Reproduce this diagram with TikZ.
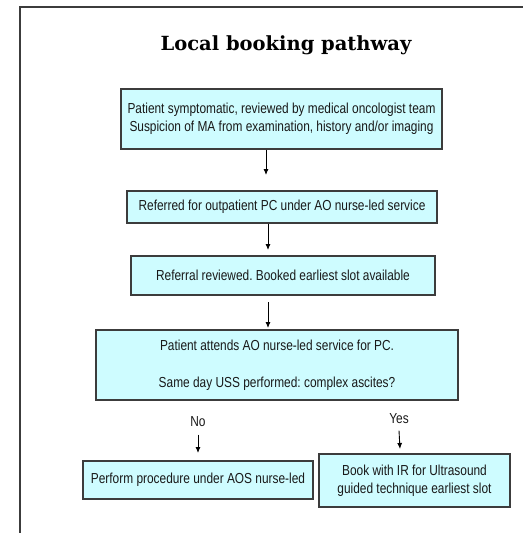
\documentclass[tikz,border=0pt]{standalone}
\usepackage{fontspec}
\usepackage{tikz}
\usetikzlibrary{arrows.meta}
\setmainfont{Liberation Sans}[FakeStretch=0.82]
\newfontfamily\titlefont{DejaVu Serif}
\definecolor{boxfill}{RGB}{206,252,255}
\definecolor{linegray}{RGB}{60,60,60}
\definecolor{textgray}{RGB}{25,25,25}
\frenchspacing

\tikzset{
  stepbox/.style={draw=linegray,line width=1.1pt,fill=boxfill,align=center,
    text=textgray,inner sep=0pt,font=\fontsize{14.5}{18}\selectfont},
  flow/.style={draw=black,line width=0.9pt,-{Latex[length=6pt,width=5pt]}},
  answer/.style={text=textgray,font=\fontsize{14.5}{16}\selectfont}
}

\begin{document}
\begin{tikzpicture}[x=1pt,y=-1pt]
\useasboundingbox (0,0) rectangle (523,533);
% frame
\draw[linegray,line width=1.3pt] (20,533) -- (20,7) -- (523,7);

\node[font=\titlefont\bfseries\fontsize{19.5}{22}\selectfont,text=black] (title) at (286,45) {Local booking pathway};

\node[stepbox,minimum width=321pt,minimum height=60pt] (1) at (281.5,119)
  {Patient symptomatic, reviewed by medical oncologist team\\Suspicion of MA from examination, history and/or imaging};
\node[stepbox,minimum width=310pt,minimum height=32pt] (2) at (282,207)
  {Referred for outpatient PC under AO nurse-led service};
\node[stepbox,minimum width=304pt,minimum height=39pt] (3) at (283,275.5)
  {Referral reviewed. Booked earliest slot available};
\node[stepbox,minimum width=362pt,minimum height=70pt,font=\fontsize{14.5}{37}\selectfont] (4) at (277,365)
  {Patient attends AO nurse-led service for PC.\\Same day USS performed: complex ascites?};
\node[stepbox,minimum width=230pt,minimum height=38pt] (5) at (198,480)
  {Perform procedure under AOS nurse-led};
\node[stepbox,minimum width=191pt,minimum height=53pt] (6) at (414.5,480.5)
  {Book with IR for Ultrasound\\guided technique earliest slot};

% arrows stop short of the next box
\coordinate (a1) at (266,175);
\coordinate (a2) at (268,250);
\coordinate (a3s) at (268,302);
\coordinate (a3) at (268,328);
\draw[flow] (1.south -| a1) -- (a1);
\draw[flow] (2.south -| a2) -- (a2);
\draw[flow] (a3s) -- (a3);

\node[answer] (no) at (198,422) {No};
\node[answer] (yes) at (399,419) {Yes};
\coordinate (n1) at (198,453);
\coordinate (y1) at (400,449);
\draw[flow] (no.south) ++(0,4) -- (n1);
\draw[flow] (yes.south) ++(0,3) -- (y1);
\end{tikzpicture}
\end{document}
